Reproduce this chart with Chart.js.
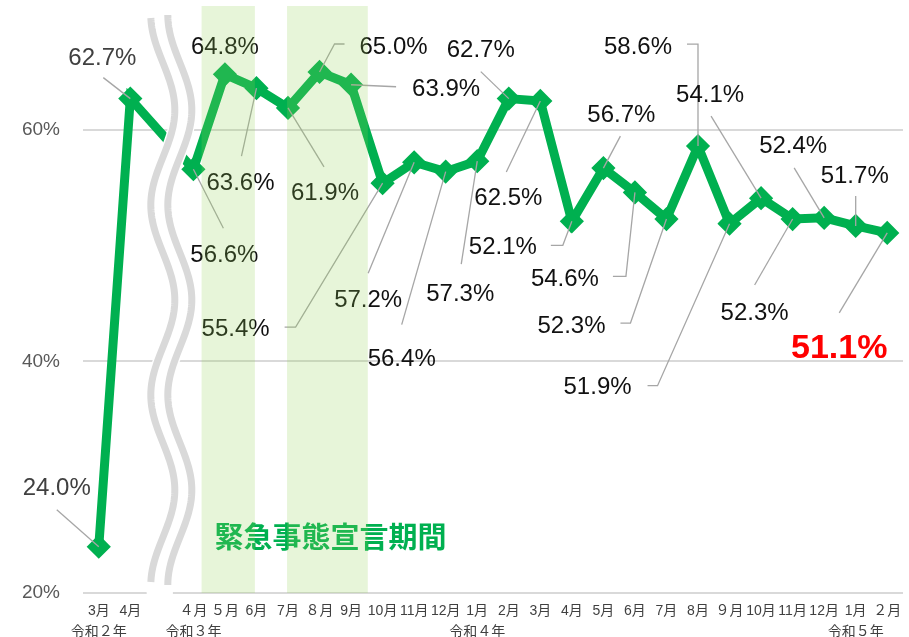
<!DOCTYPE html>
<html lang="ja">
<head>
<meta charset="utf-8">
<title>chart</title>
<script src="https://cdn.jsdelivr.net/npm/chart.js@4.4.1/dist/chart.umd.min.js"></script>
<style>
  html, body { margin: 0; padding: 0; background: #fff; }
  #chart { display: block; }
</style>
</head>
<body>
<canvas id="chart" width="909" height="637"></canvas>
<script>
// months on the axis; the '' slot is the break between 令和2年 and 令和3年
var months = ['3月', '4月', '', '４月', '５月', '6月', '7月', '８月', '9月', '10月', '11月', '12月',
  '1月', '2月', '3月', '4月', '5月', '6月', '7月', '8月', '９月', '10月', '11月', '12月', '1月', '２月'];
var years = ['令和２年', '', '', '令和３年', '', '', '', '', '', '', '', '',
  '令和４年', '', '', '', '', '', '', '', '', '', '', '', '令和５年', ''];
var rates = [24.0, 62.7, null, 56.6, 64.8, 63.6, 61.9, 65.0, 63.9, 55.4, 57.2, 56.4,
  57.3, 62.7, 62.5, 52.1, 56.7, 54.6, 52.3, 58.6, 51.9, 54.1, 52.3, 52.4, 51.7, 51.1];
var yTicks = [20, 40, 60];
// 緊急事態宣言期間, in category units
var emergency = [[3.26, 4.95], [5.97, 8.53]];
var emergencyText = '緊急事態宣言期間';

// label centre offset from its point, then the leader's bend points (offsets too)
var labelPos = [
  [-42, -60, [[-42, -37]]],
  [-28, -42, [[-27, -21]]],
  null,
  [31, 84, [[30, 59]]],
  [0, -29, []],
  [-16, 93, [[-15, 68]]],
  [37, 84, [[36, 59]]],
  [74, -27, [[25, -28], [15, -28]]],
  [95, 3, [[45, 2]]],
  [-147, 144, [[-98, 144], [-87, 144]]],
  [-46, 136, [[-46, 111]]],
  [-44, 186, [[-44, 153]]],
  [-17, 131, [[-16, 103]]],
  [-28, -50, [[-28, -27]]],
  [-32, 95, [[-34, 71]]],
  [-69, 24, [[-21, 24], [-9, 24]]],
  [18, -55, [[17, -32]]],
  [-70, 85, [[-22, 84], [-9, 84]]],
  [-95, 105, [[-46, 104], [-36, 104]]],
  [-60, -101, [[-11, -102], [0, -102]]],
  [-132, 162, [[-82, 162], [-72, 162]]],
  [-51, -105, [[-50, -82]]],
  [-38, 92, [[-38, 66]]],
  [-31, -73, [[-30, -50]]],
  [-1, -52, [[0, -30]]],
  [-48, 113, [[-48, 80]]]
];

var GREEN = '#00B050';
var FONT = "'Liberation Sans', 'Noto Sans CJK JP', sans-serif";

// wavy break between the two periods
function wave(ctx, cx, top, bottom, phase0) {
  ctx.beginPath();
  for (var y = top; y <= bottom; y += 2) {
    var x = cx - 12 * Math.cos(2 * Math.PI * (y - phase0) / 190);
    if (y === top) ctx.moveTo(x, y); else ctx.lineTo(x, y);
  }
  ctx.stroke();
}

var overlay = {
  id: 'overlay',
  afterDatasetsDraw: function (chart) {
    var ctx = chart.ctx, xs = chart.scales.x, ys = chart.scales.y, area = chart.chartArea;
    ctx.save();

    // leaders and value labels
    rates.forEach(function (v, i) {
      var p = labelPos[i];
      if (v === null || !p) return;
      var px = xs.getPixelForValue(i), py = ys.getPixelForValue(v);
      if (p[2].length) {
        ctx.strokeStyle = '#A6A6A6';
        ctx.lineWidth = 1.3;
        ctx.beginPath();
        p[2].forEach(function (b, k) {
          if (k === 0) ctx.moveTo(px + b[0], py + b[1]); else ctx.lineTo(px + b[0], py + b[1]);
        });
        ctx.lineTo(px, py);
        ctx.stroke();
      }
      var size = 24, color = '#111111', weight = '';
      if (i < 2) color = '#404040';
      if (i === rates.length - 1) { size = 34; color = '#FF0000'; weight = 'bold '; }
      ctx.font = weight + size + 'px ' + FONT;
      ctx.fillStyle = color;
      ctx.textAlign = 'center';
      ctx.textBaseline = 'alphabetic';
      ctx.fillText(v.toFixed(1) + '%', px + p[0], py + p[1] + size * 0.358);
    });

    // break marks
    var cx = xs.getPixelForValue(2.3), ph = area.top + 9;
    ctx.lineCap = 'butt';
    ctx.strokeStyle = '#FFFFFF';
    ctx.lineWidth = 26;
    wave(ctx, cx, area.top, area.bottom + 3, ph);
    ctx.strokeStyle = '#D9D9D9';
    ctx.lineWidth = 7;
    wave(ctx, cx - 8.5, area.top + 12, area.bottom - 10, ph);
    wave(ctx, cx + 8.5, area.top + 9, area.bottom - 8, ph);

    // period caption
    ctx.font = 'bold 29px "Noto Sans CJK JP", sans-serif';
    ctx.fillStyle = GREEN;
    ctx.textAlign = 'left';
    ctx.textBaseline = 'middle';
    ctx.fillText(emergencyText, xs.getPixelForValue(emergency[0][0]) + 13, ys.getPixelForValue(24.8));

    // shaded periods sit on top, tinting what is under them
    ctx.fillStyle = 'rgba(146, 208, 80, 0.22)';
    emergency.forEach(function (r) {
      var a = xs.getPixelForValue(r[0]), b = xs.getPixelForValue(r[1]);
      ctx.fillRect(a, area.top, b - a, area.bottom - area.top);
    });

    ctx.restore();
  }
};

function noPad(s) {
  s.paddingTop = 0; s.paddingBottom = 0; s.paddingLeft = 0; s.paddingRight = 0;
}

new Chart(document.getElementById('chart').getContext('2d'), {
  type: 'line',
  data: {
    labels: months.map(function (m, i) { return years[i] ? [m, years[i]] : m; }),
    datasets: [{
      data: rates,
      borderColor: GREEN,
      backgroundColor: GREEN,
      borderWidth: 9,
      tension: 0,
      spanGaps: true,
      pointStyle: 'rectRot',
      pointRadius: 10,
      pointBorderWidth: 3,
      pointBackgroundColor: GREEN,
      pointBorderColor: GREEN
    }]
  },
  options: {
    responsive: false,
    animation: false,
    devicePixelRatio: 1,
    layout: { autoPadding: false, padding: { top: 6, right: 6, left: 0, bottom: 0 } },
    plugins: { legend: { display: false }, tooltip: { enabled: false } },
    scales: {
      x: {
        offset: true,
        grid: { display: false },
        border: { display: false },
        afterFit: function (s) { s.height = 44; noPad(s); },
        ticks: {
          autoSkip: false, maxRotation: 0, padding: 0, color: '#404040',
          font: { family: FONT, size: 14, lineHeight: 1.5 }
        }
      },
      y: {
        min: 20, max: 70.7,
        afterBuildTicks: function (s) { s.ticks = yTicks.map(function (v) { return { value: v }; }); },
        afterFit: function (s) { s.width = 83; noPad(s); },
        grid: { color: '#D9D9D9', lineWidth: 2, drawTicks: false },
        border: { display: false },
        ticks: {
          padding: 23, color: '#595959',
          font: { family: FONT, size: 19 },
          callback: function (v) { return v + '%'; }
        }
      }
    }
  },
  plugins: [overlay]
});
</script>
</body>
</html>
